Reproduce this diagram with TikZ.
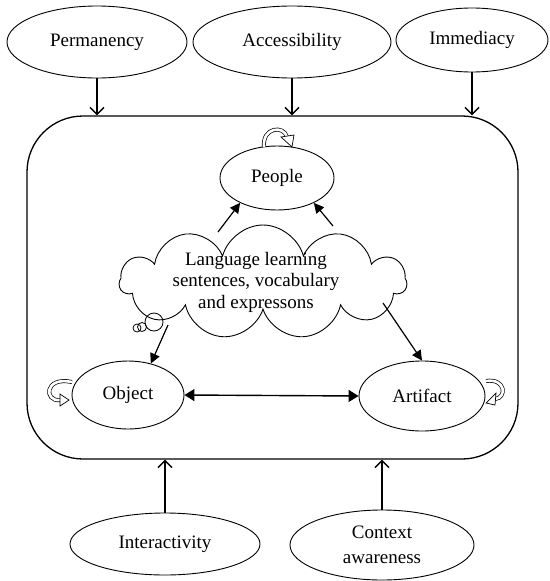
\documentclass[tikz,border=0pt]{standalone}
\usepackage{fontspec}
\setmainfont{Liberation Serif}
\usetikzlibrary{shapes.geometric,shapes.symbols,arrows.meta}

\tikzset{
  factor/.style={ellipse, draw, line width=0.9pt, inner sep=0pt, align=center},
  inflow/.style={line width=1.4pt, -{Straight Barb[length=7pt,width=14pt]}},
  link/.style={line width=1.2pt, -{Triangle[length=10pt,width=10pt]}},
  loopband/.style={double, double distance=2.6pt, line width=0.7pt},
  loophead/.style={draw, fill=white, line width=0.7pt}
}

\begin{document}
\begin{tikzpicture}[x=1pt,y=-1pt,font=\fontsize{19pt}{21.5pt}\selectfont]
\useasboundingbox (0,0) rectangle (549,581);

% the frame around the learning space
\node[draw, line width=1.3pt, rounded corners=56pt, minimum width=491pt, minimum height=343pt] (frame) at (272.5,287.5) {};

\node[factor, minimum width=180pt, minimum height=72pt] (perm) at (97,42) {Permanency};
\node[factor, minimum width=198pt, minimum height=72pt] (acc) at (292,42) {Accessibility};
\node[factor, minimum width=152pt, minimum height=64pt] (imm) at (472,40) {Immediacy};

\node[factor, minimum width=190pt, minimum height=62pt] (inter) at (165,544) {Interactivity};
\node[factor, minimum width=184pt, minimum height=70pt] (ctx) at (382,545) {Context\\[3pt] awareness};

\node[factor, minimum width=114pt, minimum height=64pt] (ppl) at (277,178) {People};
\node[factor, minimum width=112pt, minimum height=68pt] (obj) at (128,395) {Object};
\node[factor, minimum width=126pt, minimum height=70pt] (art) at (422,396) {Artifact};

\node[cloud, draw, line width=0.9pt, cloud puffs=11, cloud ignores aspect, minimum width=287pt, minimum height=114pt, inner sep=0pt] (cl) at (263,282) {};
\node[align=center, inner sep=0pt] (cltext) at (256,282) {Language learning\\ sentences, vocabulary\\ and expressons};

% thought bubbles
\draw[line width=0.8pt] (154,322) circle (9pt);
\draw[line width=0.8pt] (142,327) circle (4.5pt);
\draw[line width=0.8pt] (137,328) circle (4pt);

\draw[inflow] (perm.south) -- (perm.south |- frame.north);
\draw[inflow] (acc.south) -- (acc.south |- frame.north);
\draw[inflow] (imm.south) -- (imm.south |- frame.north);
\draw[inflow] (inter.north) -- (inter.north |- frame.south);
\draw[inflow] (ctx.north) -- (ctx.north |- frame.south);

\draw[link] ([shift={(-45,-50)}]cl.center) -- (ppl.214);
\draw[link] ([shift={(70,-56)}]cl.center) -- (ppl.-34);
\draw[link] ([shift={(-95,43)}]cl.center) -- (obj.54);
\draw[link] ([shift={(120,21)}]cl.center) -- (art.north);
\draw[line width=1.4pt, {Triangle[length=10pt,width=12pt]}-{Triangle[length=10pt,width=12pt]}] (obj.east) -- (art.west);

% self loops
\draw[loopband] (264,147) .. controls (262,127) and (284,125) .. (287,137);
\draw[loophead] (281,137) -- (294,135) -- (292,147) -- cycle;
\draw[loopband] (72,382) .. controls (44,376) and (44,402) .. (60,400);
\draw[loophead] (60,394) -- (60,406) -- (69,400) -- cycle;
\draw[loopband] (486,381) .. controls (506,378) and (507,398) .. (495,399);
\draw[loophead] (496,393) -- (495,405) -- (486,403) -- cycle;
\end{tikzpicture}
\end{document}
